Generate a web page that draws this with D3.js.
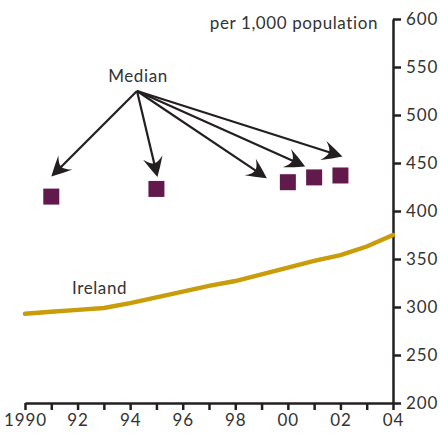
<!DOCTYPE html>
<html><head><meta charset="utf-8">
<script src="https://cdn.jsdelivr.net/npm/d3@7"></script>
<style>body{margin:0;background:#fff}svg{display:block}text{font-family:Lato,"Open Sans",sans-serif;fill:#333}</style>
</head><body><svg id="c" width="441" height="436"></svg>
<script>
const years = [1990,1991,1992,1993,1994,1995,1996,1997,1998,1999,2000,2001,2002,2003,2004];
const ireland = [293,295,297,299,304,310,316,322,327,334,341,348,354,363,375];
const medianYears = [1991,1995,2000,2001,2002];
const medianValues = [415,423,430,435,437];
const yTicks = [200,250,300,350,400,450,500,550,600];
const xTickLabels = {1990:"1990",1992:"92",1994:"94",1996:"96",1998:"98",2000:"00",2002:"02",2004:"04"};

const svg = d3.select("#c");
const x = d3.scaleLinear().domain([1990,2004]).range([25,393]);
const y = d3.scaleLinear().domain([200,600]).range([403,19]);

const xAxis = d3.axisBottom(x).tickValues(years).tickSize(7).tickSizeOuter(0).tickPadding(4)
  .tickFormat(d => xTickLabels[d] || "");
const gx = svg.append("g").attr("transform","translate(0,403)").call(xAxis);
const yAxis = d3.axisRight(y).tickValues(yTicks).tickSize(8).tickSizeOuter(0).tickPadding(5);
const gy = svg.append("g").attr("transform","translate(393,0)").call(yAxis);
[gx,gy].forEach(g=>{
  g.selectAll("path.domain,line").attr("stroke","#231f20").attr("stroke-width",2.5);
  g.selectAll("text").style("font-size","17px").style("letter-spacing","0.9px").attr("fill","#3a3a3a").style("font-family","Lato, sans-serif");
});
gy.selectAll("text").attr("dy","0.35em");

const lbl = (t,xx,yy,anchor)=>svg.append("text").attr("x",xx).attr("y",yy).attr("text-anchor",anchor)
  .style("font-size","17px").style("letter-spacing","0.6px").attr("fill","#3a3a3a").text(t);
lbl("per 1,000 population",378,29,"end");
lbl("Ireland",72,294,"start");
lbl("Median",138,82,"middle");

svg.append("path").datum(years.map((yr,i)=>[yr,ireland[i]]))
  .attr("fill","none").attr("stroke","#c99c0a").attr("stroke-width",4.5).attr("stroke-linecap","round")
  .attr("d", d3.line().x(d=>x(d[0])).y(d=>y(d[1])));

const sq = 16;
svg.selectAll("rect.m").data(medianYears).join("rect").attr("class","m")
  .attr("x",(d)=>x(d)-sq/2).attr("y",(d,i)=>y(medianValues[i])-sq/2)
  .attr("width",sq).attr("height",sq).attr("fill","#621a4c");

const tipOffsets = [[0,-20],[1,-12],[-21,-4],[-9,-11],[2,-19]];
const ox = 137, oy = 91;
medianYears.forEach((yr,i)=>{
  const tx = x(yr)+tipOffsets[i][0], ty = y(medianValues[i])+tipOffsets[i][1];
  const ang = Math.atan2(ty-oy, tx-ox);
  const L = 13;
  svg.append("line").attr("x1",ox).attr("y1",oy)
    .attr("x2",tx-Math.cos(ang)*L).attr("y2",ty-Math.sin(ang)*L)
    .attr("stroke","#231f20").attr("stroke-width",2.2);
  svg.append("path").attr("d","M0,0 Q-9,-5 -20,-10 Q-14,-4 -14,0 Q-14,4 -20,10 Q-9,5 0,0 Z").attr("fill","#231f20")
    .attr("transform",`translate(${tx},${ty}) rotate(${ang*180/Math.PI})`);
});
</script></body></html>
